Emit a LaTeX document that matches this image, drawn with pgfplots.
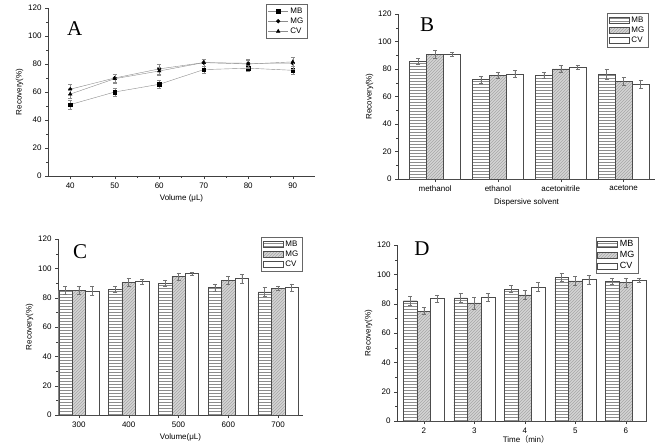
\documentclass[border=0pt]{standalone}
\usepackage{pgfplots}
\pgfplotsset{compat=1.18}
\usetikzlibrary{patterns}
\usepackage{fontspec}
\setmainfont{Liberation Sans}
\newfontfamily\serifl{Liberation Serif}
\newfontfamily\cjk{Noto Sans CJK SC}
\pgfplotsset{
  panel/.style={
    scale only axis,
    anchor=south west,
    clip mode=individual,
    axis lines=left,
    axis line style={-, black!75},
    tick align=outside,
    tick style={black!75},
    major tick length=3pt,
    minor tick length=1.8pt,
    ymin=0, ymax=120,
    ytick={0,20,...,120},
    minor y tick num=1,
    font=\fontsize{8}{9}\selectfont,
    tick label style={font=\fontsize{8}{9}\selectfont},
    label style={font=\fontsize{8}{9}\selectfont},
    /pgf/number format/assume math mode=true,
    ylabel={Recovery(\%)},
    ylabel style={yshift=-2pt},
    legend cell align=left,
    legend style={draw=black!60, font=\fontsize{8}{9}\selectfont, inner sep=1.5pt, row sep=-1pt, fill=white,
      nodes={inner xsep=2pt}},
  },
  mb/.style={ybar, bar width=0.27, bar shift=0pt, draw=black!70, fill=white,
    postaction={pattern=horizontal lines, pattern color=black!45}},
  mg/.style={ybar, bar width=0.27, bar shift=0pt, draw=black!70, fill=black!17,
    postaction={pattern=north east lines, pattern color=black!35}},
  cv/.style={ybar, bar width=0.27, bar shift=0pt, draw=black!70, fill=white},
  eb/.style={error bars/.cd, y dir=both, y explicit,
    error bar style={black!55, line width=0.5pt},
    error mark options={rotate=90, black!55, mark size=2pt}},
  barleg/.style={legend image code/.code={\draw[##1] (0pt,-3pt) rectangle (20pt,3pt);}},
  lineleg/.style={legend image code/.code={\draw[##1] (0pt,0pt) -- (20pt,0pt); \path[##1] plot coordinates {(10pt,0pt)};}},
}
\begin{document}
\begin{tikzpicture}
\path[use as bounding box] (0,0) rectangle (660pt,445pt);
% ---------- A ----------
\begin{axis}[panel, at={(48pt,269pt)}, width=267pt, height=168pt,
  xmin=35, xmax=95, xtick={40,50,...,90}, minor x tick num=1,
  xlabel={Volume (μL)},
  legend style={at={(0.97,1.024)}, anchor=north east}, lineleg,
]
\addplot[black!45, mark=square*, mark options={black, fill=black}, mark size=1.8pt,
  error bars/.cd, y dir=both, y explicit, error bar style={black!45}, error mark options={rotate=90, black!45, mark size=2pt}]
  coordinates {(40,51) +- (0,3) (50,60) +- (0,3) (60,65.5) +- (0,3) (70,76) +- (0,2.5) (80,77) +- (0,2) (90,75.5) +- (0,3)};
\addlegendentry{MB}
\addplot[black!45, mark=*, mark options={black, fill=black}, mark size=1.9pt,
  error bars/.cd, y dir=both, y explicit, error bar style={black!45}, error mark options={rotate=90, black!45, mark size=2pt}]
  coordinates {(40,62) +- (0,3.5) (50,70) +- (0,3) (60,76.5) +- (0,3.5) (70,81) +- (0,2.5) (80,80.5) +- (0,3) (90,80.5) +- (0,4)};
\addlegendentry{MG}
\addplot[black!45, mark=triangle*, mark options={black, fill=black}, mark size=2.1pt,
  error bars/.cd, y dir=both, y explicit, error bar style={black!45}, error mark options={rotate=90, black!45, mark size=2pt}]
  coordinates {(40,58.5) +- (0,3) (50,69.5) +- (0,3) (60,75) +- (0,3) (70,81) +- (0,2.5) (80,80) +- (0,3) (90,81.5) +- (0,3)};
\addlegendentry{CV}
\node[font=\serifl\fontsize{21}{22}\selectfont] at (rel axis cs:0.10,0.88) {A};
\end{axis}
% ---------- B ----------
\begin{axis}[panel, at={(398pt,266pt)}, width=257pt, height=165pt,
  xmin=-0.59, xmax=3.5, xtick={0,1,2,3},
  xticklabels={methanol,ethanol,acetonitrile,acetone},
  xlabel={Dispersive solvent},
  legend style={at={(0.973,1.006)}, anchor=north east}, barleg,
]
\addplot[mb, eb] coordinates {(-0.27,85.5) +- (0,2) (0.73,72.5) +- (0,2.5) (1.73,75.5) +- (0,2) (2.73,76) +- (0,3.5)};
\addlegendentry{MB}
\addplot[mg, eb] coordinates {(0,90.5) +- (0,3) (1,75.5) +- (0,2.5) (2,80) +- (0,2.5) (3,71) +- (0,3)};
\addlegendentry{MG}
\addplot[cv, eb] coordinates {(0.27,91) +- (0,1.5) (1.27,76.5) +- (0,2.5) (2.27,81.5) +- (0,1.5) (3.27,69) +- (0,3)};
\addlegendentry{CV}
\node[font=\serifl\fontsize{21}{22}\selectfont] at (rel axis cs:0.113,0.933) {B};
\end{axis}
% ---------- C ----------
\begin{axis}[panel, at={(58pt,30pt)}, width=245pt, height=176pt,
  xmin=-0.42, xmax=4.5, xtick={0,1,2,3,4},
  xticklabels={300,400,500,600,700},
  xlabel={Volume(μL)},
  legend style={at={(0.996,1.011)}, anchor=north east}, barleg,
]
\addplot[mb, eb] coordinates {(-0.27,85) +- (0,2.5) (0.73,85.5) +- (0,2) (1.73,90) +- (0,2) (2.73,87) +- (0,2.5) (3.73,84) +- (0,3)};
\addlegendentry{MB}
\addplot[mg, eb] coordinates {(0,85) +- (0,2.5) (1,90.5) +- (0,3) (2,94.5) +- (0,2.5) (3,92) +- (0,2.5) (4,86.5) +- (0,1.5)};
\addlegendentry{MG}
\addplot[cv, eb] coordinates {(0.27,84.5) +- (0,3) (1.27,91) +- (0,1.5) (2.27,96.5) +- (0,1) (3.27,93) +- (0,3) (4.27,87) +- (0,2.5)};
\addlegendentry{CV}
\node[font=\serifl\fontsize{21}{22}\selectfont] at (rel axis cs:0.09,0.926) {C};
\end{axis}
% ---------- D ----------
\begin{axis}[panel, at={(397pt,24pt)}, width=250pt, height=176pt,
  xmin=-0.53, xmax=4.42, xtick={0,1,2,3,4},
  xticklabels={2,3,4,5,6},
  xlabel={Time{\cjk （}min{\cjk ）}},
  xlabel style={yshift=4pt, xshift=4pt},
  legend style={at={(0.964,1.045)}, anchor=north east, font=\fontsize{9}{10}\selectfont}, barleg,
]
\addplot[mb, eb] coordinates {(-0.27,82) +- (0,3) (0.73,84) +- (0,3) (1.73,90) +- (0,2.5) (2.73,98) +- (0,2.5) (3.73,95.5) +- (0,2)};
\addlegendentry{MB}
\addplot[mg, eb] coordinates {(0,75) +- (0,2.5) (1,80.5) +- (0,4) (2,86) +- (0,3) (3,95.5) +- (0,3) (4,94.5) +- (0,3)};
\addlegendentry{MG}
\addplot[cv, eb] coordinates {(0.27,83.5) +- (0,2.5) (1.27,84.5) +- (0,2.5) (2.27,91.5) +- (0,3) (3.27,96.5) +- (0,3) (4.27,96) +- (0,1.5)};
\addlegendentry{CV}
\node[font=\serifl\fontsize{21}{22}\selectfont] at (rel axis cs:0.10,0.977) {D};
\end{axis}
\end{tikzpicture}
\end{document}
